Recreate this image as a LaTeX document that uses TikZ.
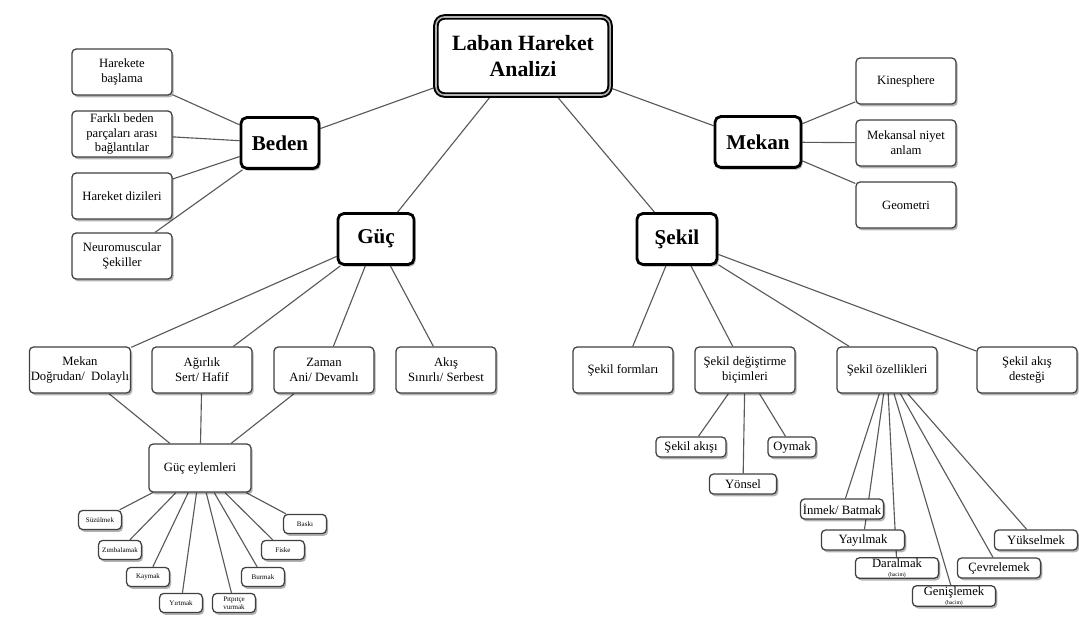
\documentclass[tikz,border=0pt]{standalone}
\usepackage{fontspec}
\setmainfont{Liberation Serif}
\usetikzlibrary{shadows, backgrounds, positioning}

\begin{document}
\begin{tikzpicture}[x=0.025cm, y=-0.025cm,
    softshadow/.style={drop shadow={shadow xshift=1.2pt, shadow yshift=-1.6pt, opacity=0.3, fill=black}},
    rootbox/.style={rectangle, draw=black, line width=1.4pt, double=gray!60, double distance=1.1pt, rounded corners=6pt, fill=white, minimum width=4.35cm, minimum height=1.95cm, align=center, font=\fontsize{15.5}{18}\selectfont\bfseries, softshadow},
    headbox/.style={rectangle, draw=black, line width=2pt, rounded corners=4pt, fill=white, minimum height=1.27cm, font=\fontsize{15}{18}\selectfont\bfseries, softshadow},
    leaf/.style={rectangle, draw=black!75, line width=0.9pt, rounded corners=3pt, fill=white, minimum width=2.5cm, minimum height=1.15cm, align=center, inner sep=1pt, font=\fontsize{9}{10.5}\selectfont, softshadow},
    chip/.style={leaf, minimum width=2.08cm, minimum height=0.5cm, inner sep=0.5pt},
    actbox/.style={leaf, minimum width=1.07cm, minimum height=0.48cm, font=\fontsize{5}{5.5}\selectfont},
    link/.style={draw=black!65, line width=0.8pt}
]
\useasboundingbox (0,0) rectangle (1079,623);

% main nodes
\node[rootbox] (laban) at (523,56) {Laban Hareket\\Analizi};
\node[headbox, minimum width=1.95cm] (beden) at (280,143) {Beden};
\node[headbox, minimum width=2.15cm] (mekan) at (758,142) {Mekan};
\node[headbox, minimum width=1.9cm] (guc) at (376,239) {Güç};
\node[headbox, minimum width=2cm] (sekil) at (677,239) {Şekil};

% Beden
\node[leaf] (baslama) at (122,72) {Harekete\\başlama};
\node[leaf] (baglanti) at (122,134) {Farklı beden\\parçaları arası\\bağlantılar};
\node[leaf] (dizi) at (122,196) {Hareket dizileri};
\node[leaf] (neuro) at (122,256) {Neuromuscular\\Şekiller};

% Mekan
\node[leaf] (kine) at (906,81) {Kinesphere};
\node[leaf] (niyet) at (906,143) {Mekansal niyet\\anlam};
\node[leaf] (geo) at (906,205) {Geometri};

% Güç
\node[leaf] (mekanq) at (80,370) {Mekan\\Doğrudan/\ \ Dolaylı};
\node[leaf] (agirlik) at (202,370) {Ağırlık\\Sert/ Hafif};
\node[leaf] (zaman) at (324,370) {Zaman\\Ani/ Devamlı};
\node[leaf] (akis) at (446,370) {Akış\\Sınırlı/ Serbest};
\node[leaf, minimum width=2.55cm, minimum height=1.2cm] (eylem) at (200,468) {Güç eylemleri};

\node[actbox] (suzul) at (100,520) {Süzülmek};
\node[actbox] (zimba) at (120,550) {Zımbalamak};
\node[actbox] (kay) at (148,577) {Kaymak};
\node[actbox] (yirt) at (181,603) {Yırtmak};
\node[actbox, align=center] (pitpit) at (234,603) {Pıtpıtçe\\vurmak};
\node[actbox] (bur) at (263,577) {Burmak};
\node[actbox] (fiske) at (283,550) {Fiske};
\node[actbox] (baski) at (305,524) {Baskı};

% Şekil
\node[leaf] (formlar) at (623,370) {Şekil formları};
\node[leaf] (degis) at (745,370) {Şekil değiştirme\\biçimleri};
\node[leaf] (ozellik) at (887,370) {Şekil özellikleri};
\node[leaf] (destek) at (1027,370) {Şekil akış\\desteği};

\node[chip, minimum width=1.75cm] (sakis) at (691,447) {Şekil akışı};
\node[chip, minimum width=1.2cm] (oymak) at (792,447) {Oymak};
\node[chip, minimum width=1.68cm] (yonsel) at (743,484) {Yönsel};

\node[chip] (inmek) at (842,509) {İnmek/ Batmak};
\node[chip] (yayil) at (863,540) {Yayılmak};
\node[chip] (daral) at (897,568) {Daralmak\\[-4pt]{\fontsize{4}{4}\selectfont (hacim)}};
\node[chip] (genis) at (954,596) {Genişlemek\\[-4pt]{\fontsize{4}{4}\selectfont (hacim)}};
\node[chip] (cevre) at (999,568) {Çevrelemek};
\node[chip] (yuksel) at (1036,540) {Yükselmek};

\begin{scope}[on background layer]
\draw[link] (laban) -- (beden);
\draw[link] (laban) -- (mekan);
\draw[link] (laban) -- (guc);
\draw[link] (laban) -- (sekil);
\foreach \n in {baslama, baglanti, dizi, neuro} \draw[link] (beden) -- (\n);
\foreach \n in {kine, niyet, geo} \draw[link] (mekan) -- (\n);
\foreach \n in {mekanq, agirlik, zaman, akis} \draw[link] (guc) -- (\n);
\foreach \n in {mekanq, agirlik, zaman} \draw[link] (\n) -- (eylem);
\foreach \n in {suzul, zimba, kay, yirt, pitpit, bur, fiske, baski} \draw[link] (eylem) -- (\n);
\foreach \n in {formlar, degis, ozellik, destek} \draw[link] (sekil) -- (\n);
\foreach \n in {sakis, oymak, yonsel} \draw[link] (degis) -- (\n);
\foreach \n in {inmek, yayil, daral, genis, cevre, yuksel} \draw[link] (ozellik) -- (\n);
\end{scope}

\end{tikzpicture}
\end{document}
